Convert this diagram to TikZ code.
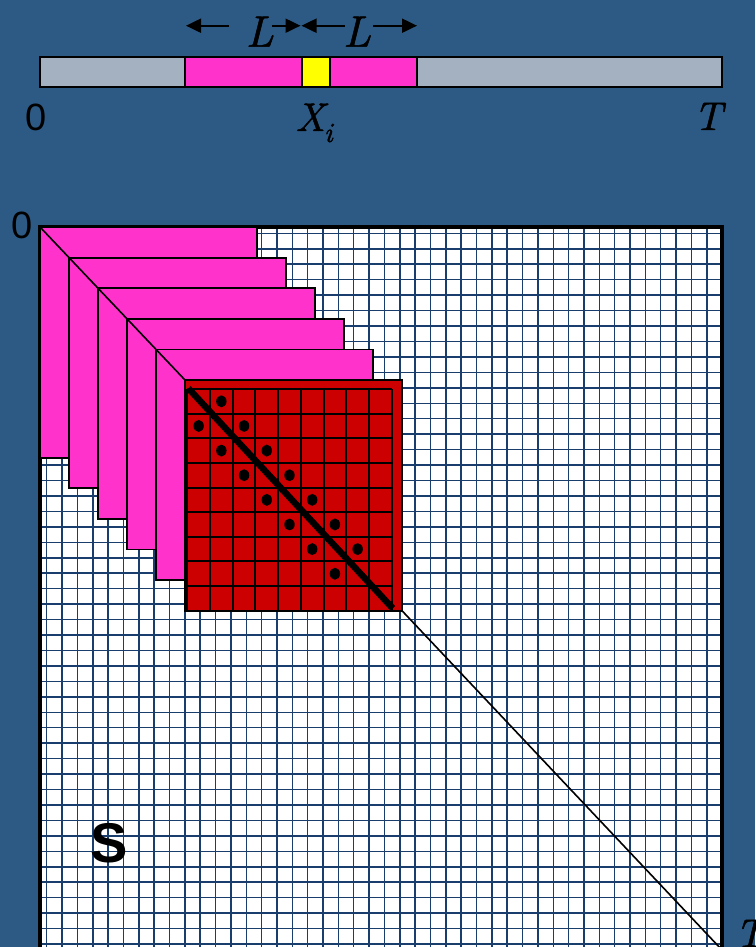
\documentclass[tikz,border=0pt]{standalone}
\usepackage{fontspec}
\setsansfont{Liberation Sans}
\newfontfamily\lmtenit{lmroman10-italic.otf}[FakeBold=1.2]
\usetikzlibrary{arrows.meta}
\definecolor{bg}{RGB}{45,90,132}
\definecolor{barGray}{RGB}{163,177,192}
\definecolor{slabPink}{RGB}{255,51,204}
\definecolor{blockRed}{RGB}{204,0,0}
\definecolor{gridBlue}{RGB}{25,62,110}
\definecolor{hiYellow}{RGB}{255,255,0}
\begin{document}
\begin{tikzpicture}[x=1pt,y=-1pt,
  edge/.style={draw=black,line width=1.8pt},
  slab/.style={fill=slabPink,draw=black,line width=1.8pt},
  dimarrow/.style={line width=2pt,-{Triangle[length=15pt,width=14pt]}},
  gridline/.style={draw=gridBlue,line width=1.5pt},
  redline/.style={draw=black,line width=2pt},
  mathlbl/.style={inner sep=0,font=\lmtenit\fontsize{40}{40}\selectfont},
  sanslbl/.style={inner sep=0,font=\sffamily\fontsize{38}{38}\selectfont}]
\useasboundingbox (0,0) rectangle (755,947);
\fill[bg] (0,0) rectangle (755,947);

% ---------- top bar ----------
\draw[edge,fill=barGray] (40,57) rectangle (722,87);
\draw[edge,fill=slabPink] (185,57) rectangle (417,87);
\draw[edge,fill=hiYellow] (302,57) rectangle (330,87);

\node[sanslbl] (zeroTop) at (36.5,117.5) {0};
\node[mathlbl,anchor=base] (Xi) at (314,131) {X\kern-1pt\raisebox{-11pt}{\fontsize{28}{28}\selectfont i}};
\node[mathlbl,anchor=base] (Ttop) at (708,130) {T};

\node[inner sep=0,anchor=base,font=\lmtenit\fontsize{44}{44}\selectfont] (L1) at (259.7,46.7) {L};
\node[inner sep=0,anchor=base,font=\lmtenit\fontsize{44}{44}\selectfont] (L2) at (357,46.7) {L};

\coordinate (a1s) at (229.3,25.7); \coordinate (a1t) at (186,25.7);
\coordinate (a2s) at (271.7,25.7); \coordinate (a2t) at (300.5,25.7);
\coordinate (a3s) at (345,25.7);   \coordinate (a3t) at (301.5,25.7);
\coordinate (a4s) at (373.3,25.7); \coordinate (a4t) at (417,25.7);
\draw[dimarrow] (a1s) -- (a1t);
\draw[dimarrow] (a2s) -- (a2t);
\draw[dimarrow] (a3s) -- (a3t);
\draw[dimarrow] (a4s) -- (a4t);

% ---------- matrix ----------
\fill[white] (40,227) rectangle (722,955);
\begin{scope}
  \clip (40,227) rectangle (722,955);
  \foreach \i in {0,...,43}
    \draw[gridline] ({46.7+15.35*\i},227) -- ({46.7+15.35*\i},955);
  \foreach \j in {0,...,46}
    \draw[gridline] (40,{233.3+15.45*\j}) -- (722,{233.3+15.45*\j});
\end{scope}
\draw[black,line width=3.5pt] (40,227) rectangle (722,955);

\node[sanslbl] (zeroMat) at (22,225.5) {0};
\node[inner sep=0,font=\sffamily\bfseries\fontsize{56}{56}\selectfont] (S) at (109,843) {S};
\node[mathlbl,anchor=base west] (Tbot) at (735,947) {T};

% pink slabs
\foreach \k in {0,...,4}
  \draw[slab] ({40+29*\k},{227+30.6*\k}) rectangle ++(217,230.6);

% red block
\draw[edge,fill=blockRed] (185,380) rectangle (402,610.7);
\foreach \i in {0,...,9}
  \draw[redline] ({187.3+22.71*\i},389) -- ({187.3+22.71*\i},610.7);
\foreach \j in {0,...,9}
  \draw[redline] (187.3,{389+24.63*\j}) -- (391.7,{389+24.63*\j});
\coordinate (rdA) at (188.3,388.3);
\coordinate (rdB) at (392.7,608.3);
\draw[line width=6.5pt] (rdA) -- (rdB);
\foreach \a/\b in {1/0,0/1,2/1,1/2,3/2,2/3,4/3,3/4,5/4,4/5,6/5,5/6,7/6,6/7}
  \fill[black] ({187.3+22.71*(\a+0.5)},{389+24.63*(\b+0.5)}) ellipse (5.2 and 6);

% main diagonal
\coordinate (dA) at (40,227);
\coordinate (dB) at (185,380);
\coordinate (dC) at (402,610.7);
\coordinate (dD) at (722,950);
\draw[line width=1.6pt] (dA) -- (dB);
\draw[line width=1.6pt] (dC) -- (dD);
\end{tikzpicture}
\end{document}
